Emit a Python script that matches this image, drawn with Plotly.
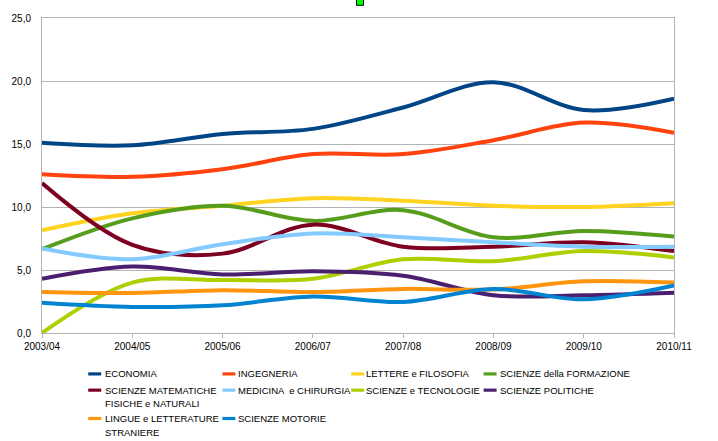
import plotly.graph_objects as go

years = ["2003/04", "2004/05", "2005/06", "2006/07", "2007/08", "2008/09", "2009/10", "2010/11"]

economia = [15.1, 14.9, 15.8, 16.2, 17.9, 19.9, 17.7, 18.6]
ingegneria = [12.6, 12.4, 13.0, 14.2, 14.2, 15.3, 16.7, 15.9]
lettere = [8.15, 9.5, 10.1, 10.7, 10.5, 10.1, 10.0, 10.3]
formazione = [6.65, 9.1, 10.1, 8.9, 9.75, 7.6, 8.1, 7.65]
matematiche = [11.9, 7.0, 6.3, 8.6, 6.85, 6.85, 7.2, 6.5]
medicina = [6.7, 5.85, 7.05, 7.9, 7.6, 7.2, 6.85, 6.85]
tecnologie = [0.0, 4.0, 4.2, 4.3, 5.85, 5.7, 6.5, 6.0]
politiche = [4.3, 5.27, 4.65, 4.9, 4.55, 3.0, 3.0, 3.2]
lingue = [3.25, 3.17, 3.4, 3.25, 3.5, 3.45, 4.1, 4.0]
motorie = [2.4, 2.07, 2.2, 2.9, 2.46, 3.5, 2.67, 3.77]

names = ["ECONOMIA", "INGEGNERIA", "LETTERE e FILOSOFIA", "SCIENZE della FORMAZIONE",
         "SCIENZE MATEMATICHE FISICHE e NATURALI", "MEDICINA  e CHIRURGIA",
         "SCIENZE e TECNOLOGIE", "SCIENZE POLITICHE",
         "LINGUE e LETTERATURE STRANIERE", "SCIENZE MOTORIE"]
legend_lines = [["ECONOMIA"], ["INGEGNERIA"], ["LETTERE e FILOSOFIA"], ["SCIENZE della FORMAZIONE"],
                ["SCIENZE MATEMATICHE", "FISICHE e NATURALI"], ["MEDICINA  e CHIRURGIA"],
                ["SCIENZE e TECNOLOGIE"], ["SCIENZE POLITICHE"],
                ["LINGUE e LETTERATURE", "STRANIERE"], ["SCIENZE MOTORIE"]]
series = [economia, ingegneria, lettere, formazione, matematiche, medicina,
          tecnologie, politiche, lingue, motorie]
colors = ["#004586", "#FF420E", "#FFD320", "#579D1C", "#7E0021", "#83CAFF",
          "#AECF00", "#4B1F6F", "#FF950E", "#0084D1"]

W, H = 718, 441
L, R, T, B = 41, 674, 15, 333

fig = go.Figure()
for name, vals, col in zip(names, series, colors):
    fig.add_trace(go.Scatter(x=years, y=vals, name=name, mode="lines",
                             line=dict(color=col, width=4, shape="spline", smoothing=1.0),
                             showlegend=False))

def px2paper(px, py):
    return (px - L) / (R - L), (B - py) / (B - T)

# manual legend (LibreOffice style)
col_sw = [87.3, 221.7, 350.7, 483.3]
col_tx = [101.7, 235.7, 364.0, 497.3]
row_y = [374.3, 390.7, 419.3]
line_gap = 13.8
shapes = []
annotations = []
for i, (lines, col) in enumerate(zip(legend_lines, colors)):
    r, c = divmod(i, 4)
    y = row_y[r]
    x0, y0 = px2paper(col_sw[c], y + 1.6)
    x1, y1 = px2paper(col_sw[c] + 13, y - 1.6)
    shapes.append(dict(type="rect", xref="paper", yref="paper", x0=x0, x1=x1, y0=y0, y1=y1,
                       fillcolor=col, line=dict(width=0)))
    for k, t in enumerate(lines):
        tx, ty = px2paper(col_tx[c], y + k * line_gap)
        annotations.append(dict(text=t, xref="paper", yref="paper", x=tx, y=ty,
                                xanchor="left", yanchor="middle", showarrow=False,
                                font=dict(family="Liberation Sans, Arial", size=9.5, color="#000")))

# small green marker at the top
gx0, gy0 = px2paper(356, 2.2)
gx1, gy1 = px2paper(363, -6)
shapes.append(dict(type="rect", xref="paper", yref="paper", x0=gx0, x1=gx1, y0=gy0, y1=gy1,
                   fillcolor="#00FF00", line=dict(color="#000", width=1)))

fig.update_layout(
    width=W, height=H,
    margin=dict(l=L, r=W - R, t=T, b=H - B, pad=0),
    paper_bgcolor="white", plot_bgcolor="white",
    separators=",.",
    font=dict(family="Liberation Sans, Arial", size=10, color="#000"),
    shapes=shapes, annotations=annotations,
    xaxis=dict(type="category", categoryorder="array", categoryarray=years,
               range=[0, len(years) - 1], showgrid=False, showline=True,
               linecolor="#b3b3b3", linewidth=1, mirror=True,
               ticks="outside", ticklen=4, tickcolor="#b3b3b3",
               tickfont=dict(size=10, color="#000")),
    yaxis=dict(range=[0, 25], dtick=5, tickformat=".1f", showgrid=True,
               gridcolor="#b3b3b3", gridwidth=1, zeroline=False, showline=True,
               linecolor="#b3b3b3", linewidth=1, mirror=True, ticks="",
               ticklabelstandoff=8, tickfont=dict(size=10, color="#000")),
)

fig.write_html("out.html", config={"displayModeBar": False},
               post_script="document.body.style.margin='0';document.body.style.overflow='hidden';")
